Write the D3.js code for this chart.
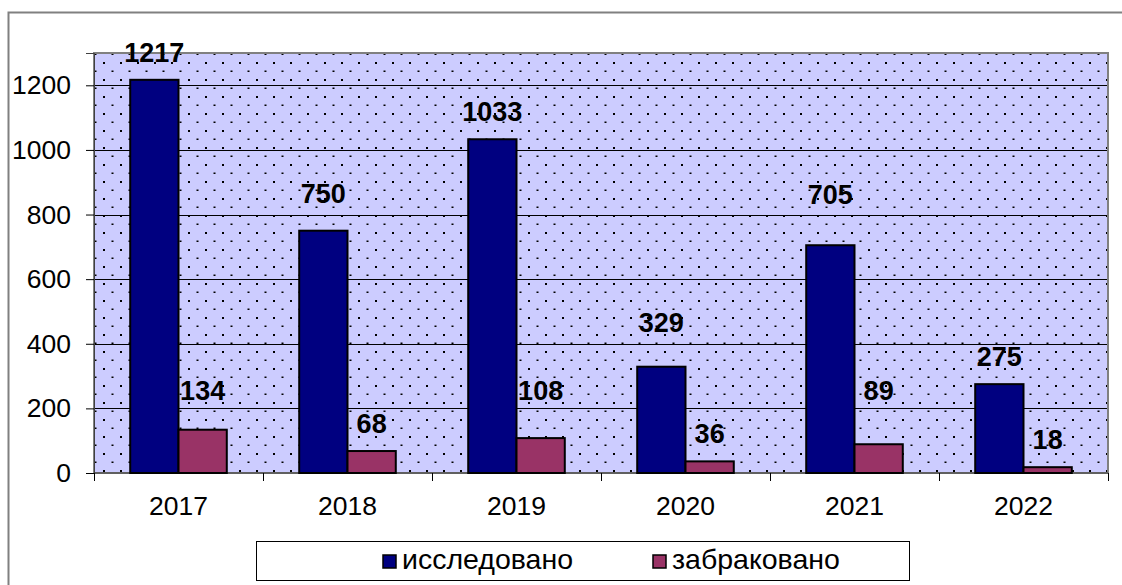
<!DOCTYPE html>
<html>
<head>
<meta charset="utf-8">
<script src="https://cdn.jsdelivr.net/npm/d3@7"></script>
<style>
  body { margin: 0; background: #fff; }
  svg { display: block; font-family: "Liberation Sans", Arial, sans-serif; }
</style>
</head>
<body>
<svg id="chart" width="1122" height="585"></svg>
<script>
// chart data
var years = ['2017', '2018', '2019', '2020', '2021', '2022'];
var seriesNames = ['исследовано', 'забраковано'];
var studied = [1217, 750, 1033, 329, 705, 275];
var rejected = [134, 68, 108, 36, 89, 18];
var yTicks = [0, 200, 400, 600, 800, 1000, 1200];

// labels were dragged by hand in the original, so keep their lift (px above bar top)
var liftStudied = [18, 28, 18, 35, 41, 18];
var liftRejected = [30, 18, 38, 18, 44, 18];

var colors = ['#000080', '#993366'];

var margin = {top: 53, right: 14, bottom: 112, left: 94};
var width = 1122 - margin.left - margin.right,
    height = 585 - margin.top - margin.bottom;

var svg = d3.select('#chart');

// outer chart frame (cut off at the right and bottom in the original)
svg.append('rect')
    .attr('x', 8.5).attr('y', 12.5)
    .attr('width', 1130).attr('height', 600)
    .attr('fill', '#fff')
    .attr('stroke', '#808080')
    .attr('stroke-width', 2);

var defs = svg.append('defs');
var pat = defs.append('pattern')
    .attr('id', 'dots')
    .attr('patternUnits', 'userSpaceOnUse')
    .attr('x', margin.left).attr('y', margin.top)
    .attr('width', 17).attr('height', 17);
pat.append('rect').attr('width', 17).attr('height', 17).attr('fill', '#ccccff');
pat.append('rect').attr('x', 0).attr('y', 7).attr('width', 2).attr('height', 2).attr('fill', '#000');
pat.append('rect').attr('x', 8.5).attr('y', 15.5).attr('width', 2).attr('height', 2).attr('fill', '#000');

var g = svg.append('g')
    .attr('transform', 'translate(' + margin.left + ',' + margin.top + ')');

var x0 = d3.scaleBand()
    .domain(years)
    .range([0, width])
    .padding(0);

var x1 = d3.scaleBand()
    .domain(seriesNames)
    .range([0, x0.bandwidth()])
    .paddingInner(0)
    .paddingOuter(0.75);

var y = d3.scaleLinear()
    .domain([0, 1300])
    .range([height, 0]);

// plot background
g.append('rect')
    .attr('width', width)
    .attr('height', height)
    .attr('fill', 'url(#dots)');

// gridlines
g.selectAll('.grid')
    .data(yTicks.filter(function(d) { return d > 0; }))
    .enter().append('line')
    .attr('class', 'grid')
    .attr('x1', 0).attr('x2', width)
    .attr('y1', function(d) { return Math.round(y(d)) + 0.5; })
    .attr('y2', function(d) { return Math.round(y(d)) + 0.5; })
    .attr('stroke', '#000')
    .attr('stroke-width', 1);

// plot border
g.append('rect')
    .attr('width', width)
    .attr('height', height)
    .attr('fill', 'none')
    .attr('stroke', '#808080')
    .attr('stroke-width', 2);

// y axis
var yAxis = d3.axisLeft(y)
    .tickValues(yTicks)
    .tickSize(8)
    .tickPadding(15)
    .tickFormat(d3.format('d'));

var yg = g.append('g').call(yAxis);
yg.select('.domain').attr('stroke', '#404040');
yg.selectAll('.tick line').attr('stroke', '#000');
yg.selectAll('.tick text')
    .attr('fill', '#000')
    .style('font-size', '26.5px')
    .style('font-family', '"Liberation Sans", Arial, sans-serif');

// x axis: ticks on category boundaries
var xg = g.append('g').attr('transform', 'translate(0,' + height + ')');
xg.append('line')
    .attr('x1', 0).attr('x2', width)
    .attr('stroke', '#404040');
xg.selectAll('.xtick')
    .data(years.concat(['end']))
    .enter().append('line')
    .attr('x1', function(d, i) { return Math.round(i * x0.step()) + 0.5; })
    .attr('x2', function(d, i) { return Math.round(i * x0.step()) + 0.5; })
    .attr('y1', 0).attr('y2', 8)
    .attr('stroke', '#000');
xg.selectAll('.xlabel')
    .data(years)
    .enter().append('text')
    .attr('x', function(d) { return x0(d) + x0.bandwidth() / 2; })
    .attr('y', 42)
    .attr('text-anchor', 'middle')
    .style('font-size', '26.5px')
    .text(function(d) { return d; });

// bars
var rows = years.map(function(yr, i) {
    return {
        year: yr,
        values: [
            {name: seriesNames[0], value: studied[i], lift: liftStudied[i], c: colors[0]},
            {name: seriesNames[1], value: rejected[i], lift: liftRejected[i], c: colors[1]}
        ]
    };
});

var groups = g.selectAll('.grp')
    .data(rows)
    .enter().append('g')
    .attr('class', 'grp')
    .attr('transform', function(d) { return 'translate(' + x0(d.year) + ',0)'; });

groups.selectAll('rect')
    .data(function(d) { return d.values; })
    .enter().append('rect')
    .attr('x', function(d) { return x1(d.name); })
    .attr('y', function(d) { return y(d.value); })
    .attr('width', x1.bandwidth())
    .attr('height', function(d) { return height - y(d.value); })
    .attr('fill', function(d) { return d.c; })
    .attr('stroke', '#000')
    .attr('stroke-width', 2);

groups.selectAll('text')
    .data(function(d) { return d.values; })
    .enter().append('text')
    .attr('x', function(d) { return x1(d.name) + x1.bandwidth() / 2; })
    .attr('y', function(d) { return y(d.value) - d.lift; })
    .attr('text-anchor', 'middle')
    .style('font-size', '27px')
    .style('font-weight', 'bold')
    .text(function(d) { return d.value; });

// legend
var legend = svg.append('g');
legend.append('rect')
    .attr('x', 256.5).attr('y', 541.5)
    .attr('width', 653).attr('height', 39)
    .attr('fill', '#fff')
    .attr('stroke', '#000');

var legX = [383, 653];
var items = legend.selectAll('.item')
    .data(seriesNames)
    .enter().append('g')
    .attr('transform', function(d, i) { return 'translate(' + legX[i] + ',555)'; });
items.append('rect')
    .attr('width', 13).attr('height', 13)
    .attr('fill', function(d, i) { return colors[i]; })
    .attr('stroke', '#000')
    .attr('stroke-width', 1.5);
items.append('text')
    .attr('x', 19).attr('y', 14)
    .style('font-size', '28.5px')
    .text(function(d) { return d; });
</script>
</body>
</html>
